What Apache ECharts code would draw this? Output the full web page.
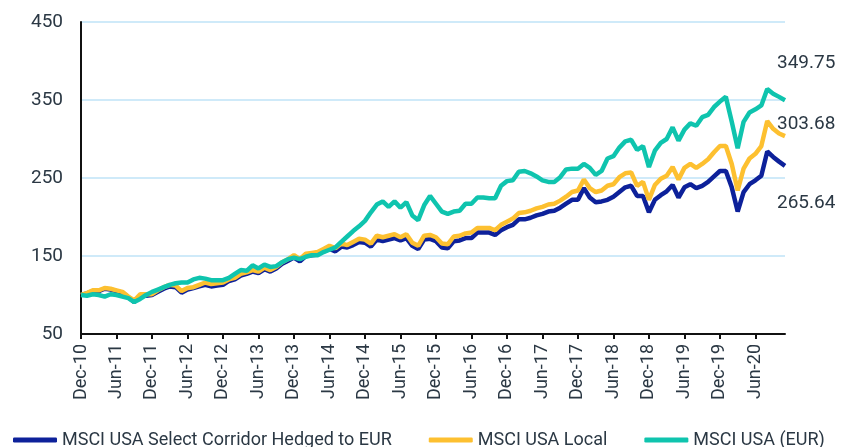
<!DOCTYPE html>
<html>
<head>
<meta charset="utf-8">
<title>MSCI USA Select Corridor</title>
<script src="https://cdn.jsdelivr.net/npm/echarts@6/dist/echarts.min.js"></script>
<style>
  html, body { margin: 0; padding: 0; background: #fff; }
  #chart { width: 841px; height: 447px; }
</style>
</head>
<body>
<div id="chart"></div>
<script>
// month labels, Dec-10 .. Nov-20
const monthNames = ['Jan', 'Feb', 'Mar', 'Apr', 'May', 'Jun', 'Jul', 'Aug', 'Sep', 'Oct', 'Nov', 'Dec']
const categories = []
for (let k = 0; k < 120; k++) {
  const m = (11 + k) % 12
  const y = 10 + Math.floor((11 + k) / 12)
  categories.push(monthNames[m] + '-' + y)
}

const seriesNames = ['MSCI USA Select Corridor Hedged to EUR', 'MSCI USA Local', 'MSCI USA (EUR)']

const hedged = [
  100, 102, 105, 105, 108, 107, 105, 103, 97, 91, 99, 99,
  100, 104, 108, 111, 110, 103, 107, 109, 111, 113, 111, 112,
  113, 118, 120, 125, 127, 130, 128, 133, 130, 134, 140, 144,
  148, 143, 150, 151, 152, 156, 159, 156, 162, 161, 164, 168,
  167, 162, 171, 169, 171, 173, 170, 173, 163, 159, 171, 172,
  169, 161, 160, 169, 170, 173, 173, 180, 180, 180, 177, 183,
  187, 190, 197, 197, 199, 202, 204, 207, 208, 212, 217, 222,
  222, 237, 225, 219, 220, 222, 226, 232, 238, 240, 227, 227,
  206, 222, 228, 233, 241, 225, 238, 242, 237, 240, 245, 252,
  259, 259, 238, 207, 232, 242, 247, 253, 284, 277, 271, 265.64
]

const local = [
  100, 102.5, 106, 106, 109, 108, 106, 104, 98, 93, 101, 101,
  101, 106, 110, 113, 112, 105, 109, 110, 113, 116, 114, 115,
  116, 120, 122, 127, 129, 132, 130, 135, 132, 136, 142, 146,
  151, 146, 153, 154, 155, 159, 163, 160, 166, 164, 168, 172,
  171, 166, 176, 174, 176, 178, 174, 178, 167, 163, 176, 177,
  174, 166, 165, 175, 176, 179, 180, 186, 186, 186, 183, 190,
  194, 198, 205, 206, 208, 211, 213, 216, 217, 221, 226, 232,
  234, 248, 237, 232, 234, 240, 242, 251, 256, 257, 240, 245,
  222, 241, 249, 253, 264, 248, 263, 268, 263, 268, 274, 283,
  291, 291, 268, 234, 262, 275, 281, 291, 323, 313, 307, 303.68
]

const eur = [
  100, 99, 101, 100, 98, 101, 100, 98, 96, 91, 95, 100,
  104, 107, 110, 113, 115, 116, 116, 120, 122, 121, 119, 119,
  119, 122, 127, 132, 131, 138, 134, 139, 136, 137, 142, 146,
  148, 146, 149, 151, 151, 155, 158, 161, 168, 175, 182, 188,
  195, 206, 216, 220, 213, 220, 212, 219, 202, 196, 215, 227,
  217, 207, 204, 207, 208, 217, 217, 225, 225, 224, 224, 240,
  246, 247, 258, 259, 256, 252, 247, 245, 245, 251, 261, 262,
  262, 268, 263, 254, 259, 275, 278, 289, 297, 299, 286, 291,
  264, 285, 295, 300, 315, 298, 312, 320, 317, 328, 331, 341,
  348, 354, 322, 288, 322, 334, 338, 343, 364, 358, 354, 349.75
]

const colors = ['#0d219a', '#fdc030', '#0fc4ae']
// vertical shift of each end label relative to the line end
const endLabelShift = [37, -12, -37]

const textColor = '#2b3844'
const font = 'Roboto, "Noto Sans", sans-serif'

const chart = echarts.init(document.getElementById('chart'))

const seriesData = [hedged, local, eur]

chart.setOption({
  animation: false,
  color: colors,
  grid: {
    left: 81,
    right: 56,
    top: 22,
    bottom: 113
  },
  legend: {
    left: 8,
    top: 426,
    width: 835,
    icon: 'roundRect',
    itemWidth: 44,
    itemHeight: 5,
    itemGap: 37,
    textStyle: {
      color: textColor,
      fontSize: 18,
      fontFamily: font
    },
    data: seriesNames
  },
  xAxis: {
    type: 'category',
    boundaryGap: false,
    data: categories,
    axisLine: { lineStyle: { color: '#111', width: 2 } },
    axisTick: { interval: 5, length: 5, lineStyle: { color: '#111', width: 2 } },
    axisLabel: {
      interval: 5,
      rotate: 90,
      margin: 10,
      color: textColor,
      fontSize: 18,
      fontFamily: font
    },
    splitLine: { show: false }
  },
  yAxis: {
    type: 'value',
    min: 50,
    max: 450,
    interval: 100,
    axisLine: { show: true, lineStyle: { color: '#111', width: 2 } },
    axisTick: { show: false },
    axisLabel: {
      margin: 18,
      color: textColor,
      fontSize: 19,
      fontFamily: font
    },
    splitLine: { lineStyle: { color: '#bfe3f7', width: 1.5 } }
  },
  series: seriesData.map((d, idx) => ({
    name: seriesNames[idx],
    type: 'line',
    data: d,
    showSymbol: false,
    lineStyle: { width: 4.5, color: colors[idx] },
    endLabel: {
      show: true,
      distance: 0,
      offset: [-8, endLabelShift[idx]],
      formatter: (p) => p.value.toFixed(2),
      color: textColor,
      fontSize: 19,
      fontFamily: font
    }
  }))
})
</script>
</body>
</html>
